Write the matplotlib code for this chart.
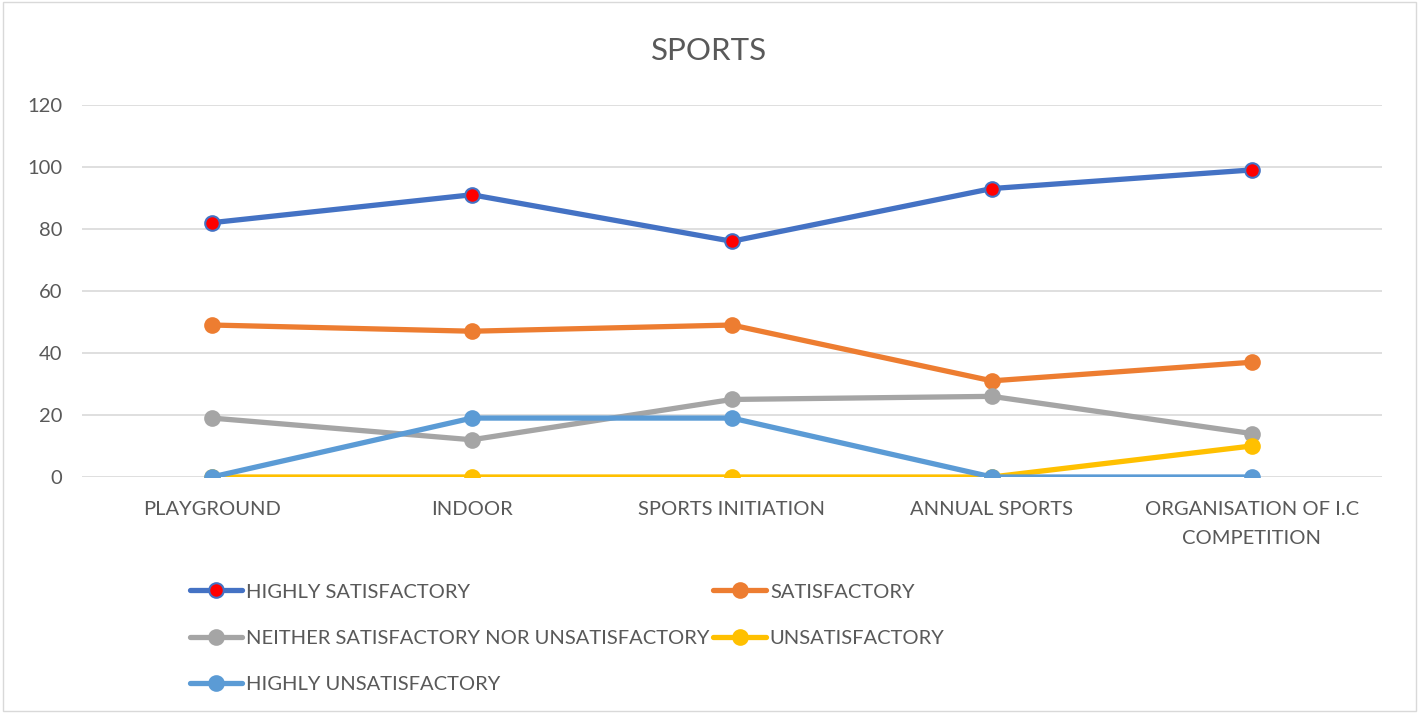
import matplotlib.pyplot as plt
from matplotlib.patches import Rectangle

plt.rcParams['font.family'] = ['Lato', 'DejaVu Sans']

# data
categories = ['PLAYGROUND', 'INDOOR', 'SPORTS INITIATION', 'ANNUAL SPORTS',
              'ORGANISATION OF I.C\nCOMPETITION']
highly_satisfactory = [82, 91, 76, 93, 99]
satisfactory = [49, 47, 49, 31, 37]
neither = [19, 12, 25, 26, 14]
unsatisfactory = [0, 0, 0, 0, 10]
highly_unsatisfactory = [0, 19, 19, 0, 0]

series = [
    ('HIGHLY SATISFACTORY', highly_satisfactory, '#4472C4', '#FF0000'),
    ('SATISFACTORY', satisfactory, '#ED7D31', '#ED7D31'),
    ('NEITHER SATISFACTORY NOR UNSATISFACTORY', neither, '#A5A5A5', '#A5A5A5'),
    ('UNSATISFACTORY', unsatisfactory, '#FFC000', '#FFC000'),
    ('HIGHLY UNSATISFACTORY', highly_unsatisfactory, '#5B9BD5', '#5B9BD5'),
]

fig = plt.figure(figsize=(14.19, 7.13), dpi=100)
ax = fig.add_axes([0.0578, 0.331, 0.916, 0.522])

x = list(range(len(categories)))
lines = []
for name, vals, col, face in series:
    ln, = ax.plot(x, vals, color=col, lw=3.8, marker='o', markersize=10.5,
                  markerfacecolor=face, markeredgecolor=col, markeredgewidth=1.5,
                  label=name, solid_capstyle='round')
    lines.append(ln)

ax.set_xlim(-0.5, len(categories) - 0.5)
ax.set_ylim(0, 120)
ax.set_yticks(range(0, 121, 20))
ax.set_xticks(x)
ax.set_xticklabels(categories, linespacing=1.9)
ax.grid(axis='y', color='#d9d9d9', lw=1.2)
ax.set_axisbelow(True)
for s in ax.spines.values():
    s.set_visible(False)
ax.tick_params(length=0, labelsize=14.5, colors='#595959')
ax.tick_params(axis='x', pad=17)
ax.tick_params(axis='y', pad=14)

fig.text(0.5, 0.928, 'SPORTS', ha='center', va='center', fontsize=22.5, color='#595959')

# legend in row-major order
order = [0, 2, 4, 1, 3]
leg = fig.legend([lines[i] for i in order], [series[i][0] for i in order],
                 ncol=2, loc='upper left', bbox_to_anchor=(0.128, 0.193),
                 frameon=False, fontsize=14.5, labelcolor='#595959',
                 handlelength=2.6, handletextpad=0.2, columnspacing=0.2,
                 labelspacing=1.45, borderaxespad=0)

fig.patches.append(Rectangle((0.002, 0.003), 0.996, 0.994, transform=fig.transFigure,
                             fill=False, edgecolor='#d9d9d9', lw=1))

fig.savefig('out.png', dpi=100)
